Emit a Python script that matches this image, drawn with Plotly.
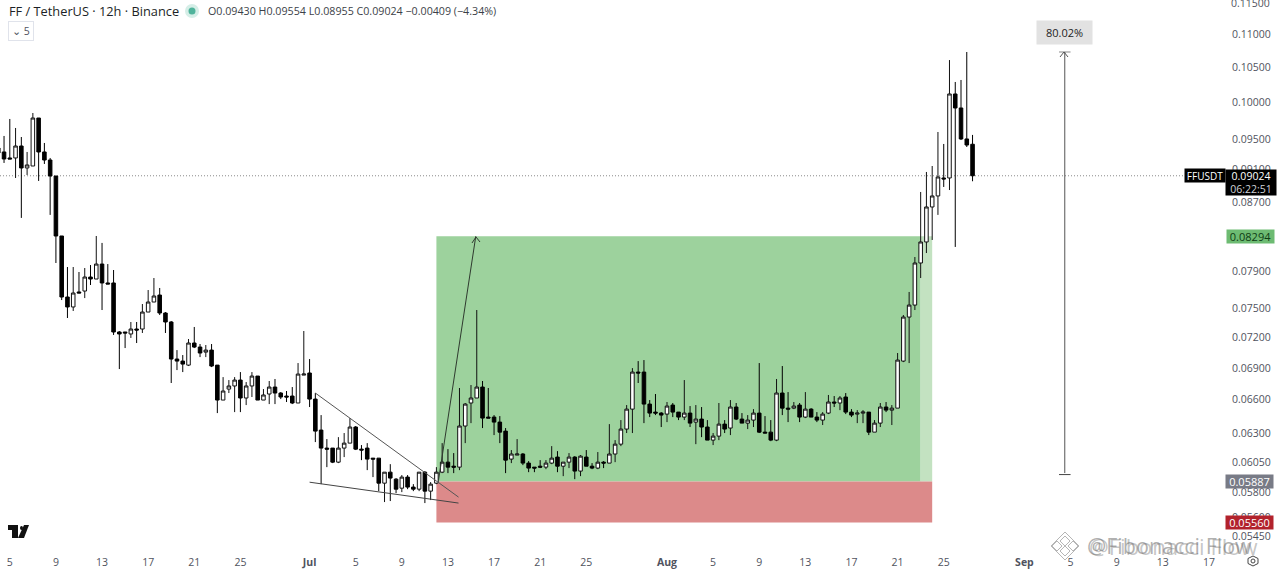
import math
import pandas as pd
import plotly.graph_objects as go

# 12h candles, first one is 4 Jun
opens = [.09381, .09329, .09251, .09251, .09407, .09123, .09148, .09782, .09329, .09225,
         .09021, .08296, .07618, .07513, .07672, .07682, .07834, .07812, .07977, .07769,
         .07769, .07255, .07255, .07235, .07285, .07285, .07460, .07565, .07639, .07450,
         .07357, .06986, .06966, .06927, .07144, .07104, .07054, .07074, .06927, .06597,
         .06699, .06728, .06784, .06616, .06728, .06822, .06597, .06653, .06718, .06662,
         .06634, .06634, .06570, .06831, .06851, .06606, .06326, .06169, .06169, .06049,
         .06169, .06212, .06353, .06160, .06169, .06083, .06083, .05874, .05965, .05907,
         .05833, .05924, .05842, .05825, .05965, .05809, .05874, .05965, .06049, .06015,
         .06007, .06362, .06570, .06616, .06718, .06442, .06442, .06397, .06317, .06075,
         .06109, .06118, .06041, .06007, .06015, .06007, .06041, .06092, .06015, .06049,
         .06092, .05974, .06092, .06015, .05999, .06049, .06041, .06118, .06203, .06335,
         .06514, .06860, .06860, .06560, .06487, .06478, .06469, .06551, .06487, .06442,
         .06478, .06397, .06424, .06353, .06238, .06273, .06379, .06344, .06533, .06424,
         .06388, .06415, .06478, .06308, .06308, .06238, .06662, .06523, .06523, .06551,
         .06442, .06514, .06442, .06415, .06478, .06579, .06570, .06625, .06487, .06469,
         .06478, .06487, .06308, .06388, .06533, .06505, .06523, .06966, .07408, .07533,
         .07989, .08227, .08639, .08773, .08996, .08996, .10116, .09920, .09500, .09430]
highs = [.09486, .09540, .09769, .09647, .09526, .09329, .09851, .09782, .09447, .09251,
         .09021, .08296, .07944, .07944, .07889, .07933, .07966, .08296, .08216, .07977,
         .07911, .07265, .07255, .07357, .07357, .07544, .07693, .07823, .07715, .07460,
         .07367, .07074, .07025, .07184, .07306, .07134, .07124, .07134, .06927, .06812,
         .06784, .06812, .06860, .06765, .06860, .06822, .06699, .06775, .06794, .06671,
         .06681, .06718, .06947, .07265, .06986, .06662, .06460, .06247, .06169, .06264,
         .06300, .06433, .06362, .06195, .06212, .06083, .06083, .05965, .06032, .05916,
         .05941, .05941, .05866, .05965, .05974, .05883, .06007, .06212, .06160, .06126,
         .06709, .06570, .06737, .07481, .06775, .06709, .06460, .06451, .06344, .06152,
         .06247, .06126, .06058, .06007, .06066, .06066, .06186, .06143, .06049, .06126,
         .06100, .06109, .06152, .06041, .06135, .06058, .06379, .06238, .06415, .06551,
         .06898, .06966, .06976, .06597, .06653, .06487, .06579, .06570, .06487, .06784,
         .06542, .06551, .06533, .06415, .06300, .06570, .06415, .06597, .06570, .06478,
         .06460, .06514, .06947, .06451, .06415, .06794, .06918, .06671, .06579, .06570,
         .06671, .06523, .06487, .06487, .06644, .06634, .06634, .06662, .06514, .06505,
         .06505, .06487, .06415, .06570, .06579, .06551, .07045, .07429, .07672, .08056,
         .08822, .09072, .09148, .09593, .09434, .10607, .10287, .10316, .10727, .09554]
lows = [.09277, .09187, .09238, .08996, .08508, .09034, .09148, .08959, .09174, .08544,
        .07989, .07586, .07398, .07471, .07661, .07607, .07747, .07812, .07481, .07758,
        .07225, .06889, .07094, .07195, .07144, .07245, .07460, .07565, .07429, .07245,
        .06756, .06879, .06860, .06918, .07094, .07005, .07005, .06908, .06478, .06597,
        .06662, .06487, .06487, .06551, .06625, .06597, .06597, .06560, .06560, .06606,
        .06579, .06560, .06570, .06831, .06533, .06221, .05866, .06007, .06041, .06041,
        .06092, .06212, .06152, .06066, .05982, .05924, .05809, .05721, .05729, .05793,
        .05801, .05825, .05809, .05809, .05713, .05737, .05866, .05957, .05957, .05957,
        .05982, .06212, .06388, .06616, .06344, .06433, .06282, .06212, .05957, .06041,
        .06109, .06024, .05965, .05965, .05999, .05990, .06032, .05965, .05932, .05999,
        .05907, .05932, .06015, .05990, .05990, .05999, .06041, .06049, .06186, .06300,
        .06300, .06756, .06388, .06442, .06460, .06353, .06397, .06442, .06415, .06415,
        .06353, .06203, .06264, .06238, .06195, .06238, .06300, .06282, .06415, .06388,
        .06335, .06353, .06300, .06300, .06229, .06229, .06460, .06397, .06514, .06397,
        .06433, .06442, .06397, .06371, .06469, .06533, .06505, .06469, .06442, .06388,
        .06388, .06282, .06308, .06353, .06487, .06371, .06523, .06956, .06947, .07481,
        .07823, .08101, .08250, .08544, .08884, .08846, .08170, .09486, .09394, .08955]
closes = [.09316, .09238, .09238, .09407, .09123, .09161, .09782, .09329, .09225, .09021,
          .08296, .07618, .07513, .07661, .07661, .07834, .07812, .07977, .07769, .07758,
          .07255, .07235, .07245, .07285, .07275, .07460, .07565, .07629, .07450, .07357,
          .06986, .06966, .06937, .07144, .07104, .07045, .07074, .06918, .06597, .06681,
          .06728, .06784, .06616, .06728, .06822, .06597, .06644, .06718, .06662, .06625,
          .06625, .06570, .06841, .06841, .06606, .06317, .06169, .06160, .06049, .06169,
          .06212, .06353, .06160, .06152, .06075, .06075, .05874, .05965, .05916, .05825,
          .05924, .05842, .05825, .05965, .05809, .05866, .05965, .06049, .06007, .06007,
          .06362, .06560, .06616, .06718, .06433, .06433, .06397, .06308, .06066, .06118,
          .06118, .06041, .05999, .05999, .06007, .06041, .06083, .06015, .06049, .06092,
          .05974, .06100, .06015, .05999, .06049, .06041, .06118, .06203, .06335, .06514,
          .06860, .06851, .06560, .06478, .06478, .06460, .06542, .06487, .06442, .06478,
          .06388, .06424, .06353, .06238, .06273, .06379, .06335, .06533, .06424, .06388,
          .06415, .06478, .06308, .06300, .06238, .06662, .06523, .06514, .06542, .06442,
          .06514, .06442, .06415, .06469, .06579, .06570, .06616, .06487, .06460, .06478,
          .06487, .06308, .06388, .06533, .06505, .06523, .06976, .07408, .07533, .07989,
          .08227, .08639, .08773, .09009, .08984, .10116, .09920, .09500, .09420, .09024]

x_ticks = ["2025-06-05", "2025-06-09", "2025-06-13", "2025-06-17", "2025-06-21", "2025-06-25",
           "2025-07-01", "2025-07-05", "2025-07-09", "2025-07-13", "2025-07-17", "2025-07-21",
           "2025-07-25", "2025-08-01", "2025-08-05", "2025-08-09", "2025-08-13", "2025-08-17",
           "2025-08-21", "2025-08-25", "2025-09-01", "2025-09-05", "2025-09-09", "2025-09-13",
           "2025-09-17"]
x_labels = ["5", "9", "13", "17", "21", "25", "<b>Jul</b>", "5", "9", "13", "17", "21", "25",
            "<b>Aug</b>", "5", "9", "13", "17", "21", "25", "<b>Sep</b>", "5", "9", "13", "17"]
price_ticks = [0.11, 0.105, 0.10, 0.095, 0.091, 0.087, 0.079, 0.075, 0.072,
               0.069, 0.066, 0.063, 0.0605, 0.058, 0.056, 0.0545]
TOP_TICK = 0.115

LAST = 0.09024
TARGET = 0.08294
ENTRY = 0.05887
STOP = 0.05560
MEASURE_LOW = 0.05945
MEASURE_HIGH = 0.10727

W, H = 1280, 571
L, R, T, B = 0, 55, 0, 26
PW, PH = W - L - R, H - T - B


def px(x):
    return x / PW


def py(y):
    return 1 - y / PH


def pixel_path(points, close=True):
    d = "M" + " L".join(f"{px(a):.5f},{py(b):.5f}" for a, b in points)
    return d + " Z" if close else d


dates = pd.date_range("2025-06-04", periods=len(opens), freq="12h")

fig = go.Figure()
fig.add_trace(go.Candlestick(
    x=dates, open=opens, high=highs, low=lows, close=closes,
    increasing=dict(line=dict(color="#111111", width=1), fillcolor="#ffffff"),
    decreasing=dict(line=dict(color="#000000", width=1), fillcolor="#000000"),
    whiskerwidth=0,
    showlegend=False,
))

shapes = []


def add_rect(x0, x1, y0, y1, color):
    shapes.append(dict(type="rect", xref="x", yref="y", x0=x0, x1=x1, y0=y0, y1=y1,
                       fillcolor=color, line_width=0, layer="below"))


def add_line(x0, y0, x1, y1, color="#3a3a3a", width=1, dash="solid"):
    shapes.append(dict(type="line", xref="x", yref="y", x0=x0, y0=y0, x1=x1, y1=y1,
                       line=dict(color=color, width=width, dash=dash)))


# position tool
add_rect("2025-07-12", "2025-08-23", ENTRY, TARGET, "#9dd29d")
add_rect("2025-08-23", "2025-08-24", ENTRY, TARGET, "#c3e2c1")
add_rect("2025-07-12", "2025-08-24", STOP, ENTRY, "#dc8a8a")

# wedge
add_line("2025-07-01 12:00", 0.06662, "2025-07-13 22:00", 0.05761, color="#555555")
add_line("2025-07-01 00:00", 0.05882, "2025-07-13 22:00", 0.05713, color="#444444")

# last price line
shapes.append(dict(type="line", xref="paper", yref="y", x0=0, x1=px(1184), y0=LAST, y1=LAST,
                   line=dict(color="#8a8a8a", width=1, dash="1px,2px"), layer="below"))

# measure bars
add_line("2025-09-04", MEASURE_LOW, "2025-09-05", MEASURE_LOW, color="#444444")
add_line("2025-09-04", MEASURE_HIGH, "2025-09-05", MEASURE_HIGH, color="#888888")

# arrow heads
shapes.append(dict(type="path", xref="paper", yref="paper", line=dict(color="#2f3a2f", width=1),
                   path=pixel_path([(472, 243), (476, 237), (480, 242)], close=False)))
shapes.append(dict(type="path", xref="paper", yref="paper", line=dict(color="#555555", width=1),
                   path=pixel_path([(1060, 57), (1064, 52), (1068, 57)], close=False)))

# TV logo
shapes.append(dict(type="path", xref="paper", yref="paper", fillcolor="#111111", line_width=0,
                   path=pixel_path([(8, 525), (18, 525), (18, 538), (12, 538), (12, 530), (8, 530)])))
shapes.append(dict(type="circle", xref="paper", yref="paper", fillcolor="#111111", line_width=0,
                   x0=px(20), x1=px(23), y0=py(530), y1=py(526)))
shapes.append(dict(type="path", xref="paper", yref="paper", fillcolor="#111111", line_width=0,
                   path=pixel_path([(24, 525), (29, 525), (24, 538), (18, 538)])))

# status dot
shapes.append(dict(type="circle", xref="paper", yref="paper", fillcolor="#d5eee7", line_width=0,
                   x0=px(185), x1=px(199), y0=py(18), y1=py(4)))
shapes.append(dict(type="circle", xref="paper", yref="paper", fillcolor="#4fb39b", line_width=0,
                   x0=px(188.5), x1=px(195.5), y0=py(14.5), y1=py(7.5)))

# gear
shapes.append(dict(type="path", xref="paper", yref="paper", line=dict(color="#444444", width=1),
                   path=pixel_path([(1253, 556), (1258, 558.5), (1258, 563.5), (1253, 566),
                                    (1248, 563.5), (1248, 558.5)])))
shapes.append(dict(type="circle", xref="paper", yref="paper", line=dict(color="#444444", width=1),
                   x0=px(1251), x1=px(1255), y0=py(563), y1=py(559)))

# watermark diamonds
for cx, cy, r in [(1065, 546, 14), (1065, 541, 5), (1065, 551, 5), (1057, 546, 5), (1073, 546, 5)]:
    shapes.append(dict(type="path", xref="paper", yref="paper",
                       line=dict(color="rgba(150,150,150,0.7)", width=1),
                       path=pixel_path([(cx, cy - r), (cx + r, cy), (cx, cy + r), (cx - r, cy)])))

ann = []


def chrome_text(text, x, y, size, color, anchor="left", **kw):
    ann.append(dict(text=text, xref="paper", yref="paper", x=px(x), y=py(y), xanchor=anchor,
                    yanchor="middle", showarrow=False, font=dict(size=size, color=color), **kw))


def price_label(text, price, left, width, height, bg, color, shift=0, size=11):
    ann.append(dict(text=text, xref="paper", yref="y", x=1, y=math.log10(price), xanchor="left",
                    yanchor="middle", xshift=left, yshift=shift, showarrow=False, width=width,
                    height=height, bgcolor=bg, borderpad=0, align="center",
                    font=dict(size=size, color=color)))


chrome_text("FF / TetherUS · 12h · Binance", 7, 11, 12.8, "#1c1f26")
chrome_text("O0.09430 H0.09554 L0.08955 C0.09024 −0.00409 (−4.34%)", 206, 11, 10.7, "#3c3f48")
chrome_text("⌄ 5", 8, 31, 10.5, "#50535e", bordercolor="#e0e3eb", borderwidth=1, borderpad=2, width=20)

# top tick sits too close to the page edge for the axis to keep it
chrome_text(f"{TOP_TICK:.5f}", (W - R + 4) , 3, 10.5, "#50535e")

# right side labels
price_label("FFUSDT", LAST, -41, 40, 13, "#000000", "#ffffff", size=10)
ann.append(dict(text="0.09024<br><span style='color:#cfd2d8'>06:22:51</span>", xref="paper", yref="y",
                x=1, y=math.log10(LAST), xanchor="left", yanchor="top", yshift=7, showarrow=False,
                width=50, height=25, bgcolor="#000000", borderpad=0, align="center",
                font=dict(size=10.5, color="#ffffff")))
price_label("0.08294", TARGET, 1, 47, 13, "#6dbb72", "#0e3d14")
price_label("0.05887", ENTRY, 0, 47, 13, "#787b86", "#ffffff")
price_label("0.05560", STOP, 0, 47, 13, "#b2222c", "#ffffff")

# arrows
ann.append(dict(x="2025-07-15 10:00", y=math.log10(TARGET), ax="2025-07-12 04:00",
                ay=math.log10(0.05887), xref="x", yref="y", axref="x", ayref="y", text="",
                showarrow=True, arrowhead=0, arrowwidth=1, arrowcolor="#2f3a2f"))
ann.append(dict(x="2025-09-04 12:00", y=math.log10(MEASURE_HIGH), ax="2025-09-04 12:00",
                ay=math.log10(MEASURE_LOW), xref="x", yref="y", axref="x", ayref="y", text="",
                showarrow=True, arrowhead=0, arrowwidth=1, arrowcolor="#555555"))

# measure label
chrome_text("80.02%", 1064.5, 32, 11, "#222222", anchor="center", bgcolor="#e2e2e2", borderpad=5,
            width=45, height=13)

# watermark, ghosted twice like the picture
chrome_text("@Fibonacci Flow", 1085, 545, 21.5, "rgba(110,110,110,0.55)")
chrome_text("@Fibonacci Flow", 1087, 546, 22, "rgba(110,110,110,0.4)")

fig.update_layout(
    width=W, height=H,
    margin=dict(l=L, r=R, t=T, b=B),
    paper_bgcolor="#ffffff", plot_bgcolor="#ffffff",
    font=dict(family="Open Sans, Noto Sans, sans-serif", size=11, color="#50535e"),
    showlegend=False,
    boxgap=0.12,
    shapes=shapes,
    annotations=ann,
)
fig.update_xaxes(
    type="date", range=["2025-06-04 03:36", "2025-09-18 09:30"],
    tickmode="array", tickvals=x_ticks, ticktext=x_labels, tickangle=0,
    showgrid=False, zeroline=False, showline=False, rangeslider_visible=False,
    ticks="outside", ticklen=7, tickcolor="rgba(0,0,0,0)",
    tickfont=dict(size=10.5, color="#50535e"),
)
fig.update_yaxes(
    type="log", range=[math.log10(0.05388), math.log10(0.11535)], side="right",
    tickmode="array", tickvals=price_ticks, ticktext=[f"{p:.5f}" for p in price_ticks],
    showgrid=False, zeroline=False, showline=False,
    ticks="outside", ticklen=4, tickcolor="rgba(0,0,0,0)",
    tickfont=dict(size=10.5, color="#50535e"),
)

# page default margin would push the plot 8px in
fig.write_html("out.html", config={"displayModeBar": False},
               post_script="document.body.style.margin='0';")
